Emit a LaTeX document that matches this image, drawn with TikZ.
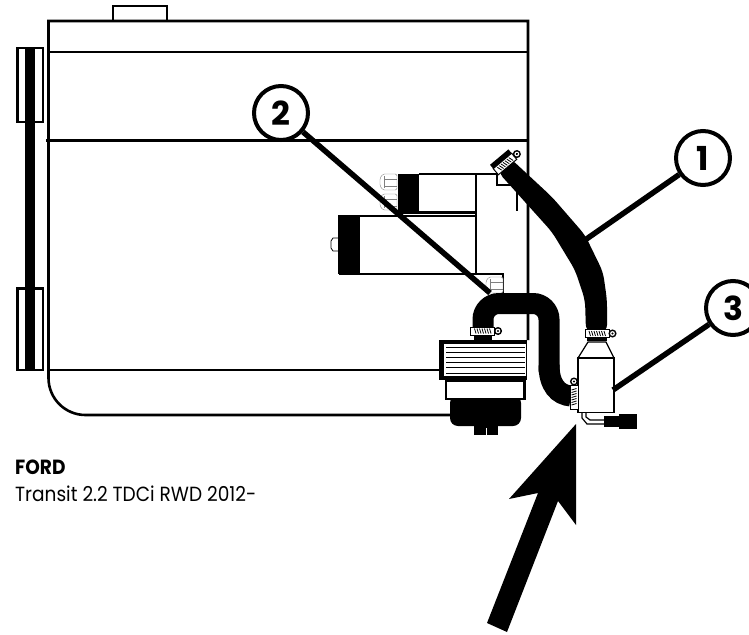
\documentclass[tikz,border=0pt]{standalone}
\usepackage{fontspec}
\setmainfont{Poppins}
\newcommand{\hoseclamp}[3]{%
	\begin{scope}[shift={(#1,#2)},rotate=#3]
		\draw[line width=1pt,fill=white] (-12,-4) rectangle (12,4);
		\foreach \k in {-8,-5.5,...,7}
			\draw[line width=.8pt] (\k,-2.5)--(\k+1.5,2.5);
		\draw[line width=1.4pt,fill=white] (15.5,0) circle (3.3);
		\fill (15.5,0) circle (1.2);
	\end{scope}}
\newcommand{\hexbolt}[2]{%
	\begin{scope}[shift={(#1,#2)}]
		\draw[thin,gray,fill=white,rounded corners=1.5pt] (-9,-4)--(-6,-8)--(8,-8)--(8,8)--(-6,8)--(-9,4)--cycle;
		\draw[thin,gray] (-5,-6)--(-5,6);
		\draw[thin,gray] (-5,-3)--(8,-3);
		\draw[thin,gray] (-5,4)--(8,4);
	\end{scope}}
\tikzset{
	body/.style={line width=2.6pt},
	thinbody/.style={line width=1.2pt},
	hose/.style={line width=21pt},
	leader/.style={line width=5.5pt},
	callout/.style={draw,circle,line width=4pt,fill=white,minimum size=54pt,inner sep=0pt,font=\fontsize{33}{35}\selectfont\bfseries},
	caption/.style={anchor=base west,inner sep=0pt,xscale=.905,font=\fontsize{20.5}{22}\selectfont}
}
\begin{document}
\begin{tikzpicture}[x=1pt,y=-1pt]
	\clip (0,0) rectangle (749,634);
	% engine block
	\draw[body] (113,21)--(113,6)--(167,6)--(167,21);
	\draw[body] (528,340)--(528,21)--(48.5,21)--(48.5,378) arc[start angle=180,end angle=270,x radius=37,y radius=-37]--(455,415);
	\draw[body] (48,52)--(528,52);
	\draw[body] (46,140.5)--(528,140.5);
	\draw[body] (48,370)--(440,370);
	% belt and pulleys
	\fill (25,49) rectangle (35,369);
	\draw[body] (17.5,48)--(43,48)--(43,122)--(17.5,122)--cycle;
	\draw[body] (17.5,288.5)--(43,288.5)--(43,370)--(17.5,370)--cycle;
	% pump and brackets
	\draw[thinbody] (419,174)--(497,174)--(497,185)--(517,185);
	\draw[thinbody] (517,190)--(517,211);
	\draw[body] (476,174)--(476,274);
	\draw[body] (398,212.5)--(476,212.5);
	\draw[thinbody] (339,216)--(476,216);
	\draw[thinbody] (339,274)--(503,274)--(503,293);
	\fill (398,174) rectangle (419,212);
	\fill (338,215) rectangle (360,274);
	\draw[thick] (339,238)--(333,238)--(331,241)--(331,248)--(333,251)--(339,251);
	\hexbolt{389}{182}
	\hexbolt{389}{202}
	\hexbolt{495}{285}
	% hoses
	\fill[rounded corners=7pt] (510,158)--(552,197)--(585,235)--(603,272)--(607,300)--(607,332)--(586,332)--(585,300)--(575,270)--(552,232)--(498,172)--cycle;
	\draw[hose,rounded corners=16pt] (483,330)--(483,303.5)--(549,303.5)--(549,372);
	\draw[hose] (549,365) .. controls (549,385) and (558,395) .. (571,396);
	% oil filter
	\fill (474,334) rectangle (492,341);
	\fill[rounded corners=8pt] (450,395) rectangle (521,426);
	\fill (474,426) rectangle (498,435);
	\draw[white,thick] (486,428)--(486,435);
	\fill (439,340) rectangle (527,380);
	\fill[white] (443.5,343.5) rectangle (526,376);
	\foreach \lineY in {347,352,357,362,367,373}
		\draw[thick] (446,\lineY)--(525,\lineY);
	\fill (444.5,376) rectangle (526,400);
	\fill[white] (447,381.5) rectangle (523,397.5);
	% separator
	\draw[thinbody,fill=white] (588,342)--(606,342)--(614,358)--(578,358)--cycle;
	\fill (587,337) rectangle (607,341);
	\draw[thinbody,fill=white] (578,358) rectangle (614,412.5);
	\draw[body] (578,358)--(614,358);
	\draw[thinbody] (582,413)--(582,418)--(587,424)--(605,424);
	\draw[thinbody] (586,413)--(586,417)--(590,420)--(605,420);
	\fill (604,416) rectangle (619,427);
	\fill (619,414) rectangle (637,429);
	% clamps
	\fill[rotate around={40:(505,164)}] (-12+505,-9+164) rectangle (12+505,-3+164);
	\hoseclamp{505}{164}{40}
	\hoseclamp{482.5}{331}{0}
	\hoseclamp{597}{333.5}{0}
	\hoseclamp{574}{397}{90}
	% arrow
	\fill (576,424)--(576,525)--(558,501)--(507,632)--(487,623)--(538,493)--(509,499)--cycle;
	% callouts
	\node[callout] (c1) at (703,158) {1};
	\node[callout] (c2) at (281,113) {2};
	\node[callout] (c3) at (733,308) {3};
	\coordinate (h1) at (585,240);
	\coordinate (h2) at (490,293);
	\coordinate (h3) at (613,390);
	\draw[leader] (c1)--(h1);
	\draw[leader] (c2)--(h2);
	\draw[leader] (c3)--(h3);
	% caption
	\node[caption] (make) at (15,474) {\bfseries FORD};
	\node[caption] (model) at (15,501) {Transit 2.2 TDCi RWD 2012-};
\end{tikzpicture}
\end{document}
